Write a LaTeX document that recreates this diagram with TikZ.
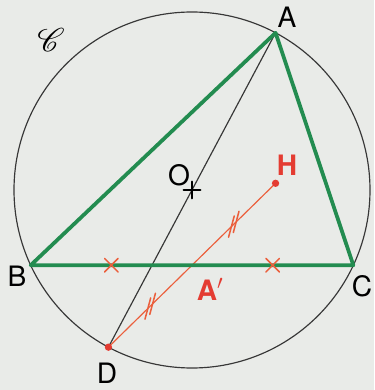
\documentclass[tikz,border=0pt]{standalone}
\usepackage{fontspec}
\setmainfont{TeX Gyre Heros}
\usepackage{mathrsfs}
\definecolor{paper}{RGB}{233,235,232}
\definecolor{trigreen}{RGB}{35,140,80}
\definecolor{redpt}{RGB}{228,60,50}
\definecolor{redseg}{RGB}{235,95,60}
\definecolor{circgray}{RGB}{55,55,55}
\usetikzlibrary{calc,shapes.misc}

\begin{document}
\begin{tikzpicture}[line cap=round]
  \tikzstyle{side}=[draw=trigreen,line width=3.2pt,line join=round]
  \tikzstyle{chord}=[draw=circgray,line width=1pt]
  \tikzstyle{seg}=[draw=redseg,line width=1pt]
  \tikzstyle{lbl}=[inner sep=0pt,font=\fontsize{24}{28}\selectfont]
  \tikzstyle{redlbl}=[inner sep=0pt,text=redpt,font=\fontsize{24}{28}\selectfont\bfseries]
  \tikzstyle{crossmark}=[cross out,draw=redseg,line width=1.3pt,minimum size=0.36cm,inner sep=0pt]
  \tikzstyle{dot}=[circle,fill=redpt,inner sep=0pt,minimum size=0.22cm]
  \useasboundingbox[fill=paper] (-5.76,-6.00) rectangle (5.46,5.70);
  \def\R{5.34}
  \coordinate (O) at (0,0);
  \coordinate (A) at (62:\R);
  \coordinate (B) at (205:\R);
  \coordinate (C) at (-25:\R);
  \coordinate (D) at (242:\R);
  \coordinate (H) at ($(A)+(B)+(C)$);
  \coordinate (Ap) at ($(B)!0.5!(C)$);
  \coordinate (m1) at ($(D)!0.5!(Ap)$);
  \coordinate (m2) at ($(Ap)!0.5!(H)$);
  \draw[chord] (O) circle (\R);
  \draw[chord] (A) -- (D);
  \draw[seg] (D) -- (H);
  \foreach \m in {m1,m2}
    \foreach \s in {-1,1}
      \draw[seg,line width=1.3pt] ($(\m)!\s*0.1cm!(H)$) ++(255:0.33) -- ++(75:0.66);
  \draw[side] (A) -- (B) -- (C) -- cycle;
  \path (B) -- (Ap) node[crossmark,midway] (x1) {};
  \path (Ap) -- (C) node[crossmark,midway] (x2) {};
  \draw[line width=2pt] ($(O)+(-0.25,0)$) -- ($(O)+(0.25,0)$) ($(O)+(0,-0.25)$) -- ($(O)+(0,0.25)$);
  \node[dot] (dD) at (D) {};
  \node[dot] (dH) at (H) {};
  \node[lbl] (lA) at ($(A)+(0.34,0.47)$) {A};
  \node[lbl] (lB) at ($(B)+(-0.41,-0.32)$) {B};
  \node[lbl] (lC) at ($(C)+(0.26,-0.62)$) {C};
  \node[lbl] (lD) at ($(D)+(-0.04,-0.78)$) {D};
  \node[lbl] (lO) at ($(O)+(-0.39,0.45)$) {O};
  \node[redlbl] (lH) at ($(H)+(0.34,0.55)$) {H};
  \node[redlbl] (lAp) at ($(Ap)+(0.54,-0.72)$) {A$'$};
  \node[inner sep=0pt] (lcirc) at (-4.23,4.5) {\scalebox{2.8}{$\mathscr{C}$}};
\end{tikzpicture}
\end{document}
